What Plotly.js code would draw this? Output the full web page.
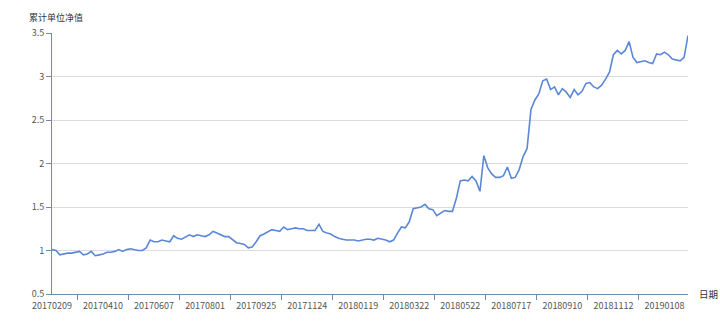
<!DOCTYPE html>
<html>
<head>
<meta charset="utf-8">
<script src="https://cdn.plot.ly/plotly-3.0.1.min.js"></script>
<style>html,body{margin:0;padding:0;background:#fff;}#chart{width:720px;height:326px;}</style>
</head>
<body>
<div id="chart"></div>
<script>
const dates = [
"20170209","20170214","20170217","20170222","20170227","20170302","20170307","20170310","20170315","20170320","20170323","20170328","20170331",
"20170410","20170413","20170418","20170421","20170426","20170502","20170505","20170510","20170515","20170518","20170523","20170526","20170602",
"20170607","20170612","20170615","20170620","20170623","20170628","20170703","20170706","20170711","20170714","20170719","20170724","20170727",
"20170801","20170804","20170809","20170814","20170817","20170822","20170825","20170830","20170904","20170907","20170912","20170915","20170920",
"20170925","20170928","20171011","20171016","20171019","20171024","20171027","20171101","20171106","20171109","20171114","20171117","20171122",
"20171124","20171129","20171204","20171207","20171212","20171215","20171220","20171225","20171228","20180103","20180108","20180111","20180116",
"20180119","20180124","20180129","20180201","20180206","20180209","20180214","20180226","20180301","20180306","20180309","20180314","20180319",
"20180322","20180327","20180330","20180404","20180411","20180416","20180419","20180424","20180427","20180504","20180509","20180514","20180517",
"20180522","20180525","20180530","20180604","20180607","20180612","20180615","20180621","20180626","20180629","20180704","20180709","20180712",
"20180717","20180720","20180725","20180730","20180802","20180807","20180810","20180815","20180820","20180823","20180828","20180831","20180905",
"20180910","20180913","20180918","20180921","20180927","20181008","20181011","20181016","20181019","20181024","20181029","20181101","20181106",
"20181112","20181115","20181120","20181123","20181128","20181203","20181206","20181211","20181214","20181219","20181224","20181227","20190103",
"20190108","20190111","20190116","20190121","20190124","20190129","20190201"
];
const nav = [
1.01,1.00,0.95,0.96,0.97,0.97,0.98,0.99,0.95,0.96,0.99,0.94,0.95,
0.96,0.98,0.98,0.99,1.01,0.99,1.01,1.02,1.01,1.00,1.00,1.03,1.12,
1.10,1.10,1.12,1.11,1.10,1.17,1.14,1.13,1.16,1.18,1.16,1.18,1.17,
1.16,1.18,1.22,1.20,1.18,1.16,1.16,1.12,1.09,1.08,1.07,1.03,1.04,
1.10,1.17,1.19,1.22,1.24,1.23,1.22,1.27,1.24,1.25,1.26,1.25,1.25,
1.23,1.23,1.23,1.30,1.22,1.20,1.19,1.16,1.14,1.13,1.12,1.12,1.12,
1.11,1.12,1.13,1.13,1.12,1.14,1.13,1.12,1.10,1.12,1.20,1.27,1.26,
1.33,1.48,1.49,1.50,1.53,1.48,1.47,1.40,1.43,1.46,1.45,1.45,1.60,
1.80,1.81,1.80,1.85,1.80,1.68,2.09,1.95,1.88,1.84,1.84,1.86,1.96,
1.83,1.84,1.93,2.08,2.17,2.62,2.73,2.80,2.95,2.97,2.85,2.88,2.79,
2.86,2.82,2.76,2.85,2.79,2.83,2.92,2.93,2.88,2.86,2.90,2.97,3.05,
3.25,3.30,3.26,3.30,3.40,3.22,3.16,3.17,3.18,3.16,3.15,3.26,3.25,
3.28,3.25,3.20,3.19,3.18,3.22,3.47
];
const tickLabels = ["20170209","20170410","20170607","20170801","20170925","20171124","20180119","20180322","20180522","20180717","20180910","20181112","20190108"];
const yTicks = [0.5,1,1.5,2,2.5,3,3.5];
const yTickText = ["0.5","1","1.5","2","2.5","3","3.5"];
const yTitle = "累计单位净值";
const xTitle = "日期";

const axisColor = "#6E8BB0";
const fontFam = "'Noto Sans CJK SC', 'Noto Sans', sans-serif";

// tick marks half-way between labelled categories
const labelIdx = tickLabels.map(d => dates.indexOf(d));
const midTicks = [];
const midText = [];
for (let k = 0; k + 1 < labelIdx.length; k++) {
  midTicks.push((labelIdx[k] + labelIdx[k+1]) / 2);
  midText.push("");
}
const lastStep = labelIdx[1] - labelIdx[0];
const lastMid = labelIdx[labelIdx.length - 1] + lastStep / 2;
if (lastMid <= dates.length - 1) { midTicks.push(lastMid); midText.push(""); }

const trace = {
  type: "scatter", mode: "lines",
  x: dates, y: nav,
  line: {color: "#5B88D6", width: 1.6, shape: "linear"},
  hoverinfo: "x+y", showlegend: false
};
const idx = dates.map((d, i) => i);
const ghost = {
  type: "scatter", mode: "lines", x: idx, y: nav,
  xaxis: "x2", yaxis: "y", opacity: 0, line: {width: 0.1, color: "rgba(0,0,0,0)"},
  hoverinfo: "skip", showlegend: false
};

const layout = {
  width: 720, height: 326,
  margin: {l: 52, r: 32, t: 33, b: 32, pad: 0},
  paper_bgcolor: "#fff", plot_bgcolor: "#fff",
  font: {family: fontFam, size: 9, color: "#555"},
  xaxis: {
    type: "category", range: [0, dates.length - 1],
    tickmode: "array", tickvals: tickLabels, ticktext: tickLabels,
    ticks: "", showgrid: false, zeroline: false,
    showline: true, linecolor: axisColor, linewidth: 1,
    tickfont: {size: 9, color: "#555", family: fontFam},
    ticklabelstandoff: 3
  },
  xaxis2: {
    type: "linear", overlaying: "x", anchor: "y", side: "bottom",
    range: [0, dates.length - 1],
    tickmode: "array", tickvals: midTicks, ticktext: midText, showticklabels: true,
    ticks: "outside", ticklen: 5, tickcolor: axisColor, tickwidth: 1,
    showgrid: false, zeroline: false, showline: false, visible: true
  },
  yaxis: {
    range: [0.5, 3.5], tickmode: "array", tickvals: yTicks, ticktext: yTickText,
    ticks: "outside", ticklen: 5, tickcolor: axisColor,
    showgrid: true, gridcolor: "#DCDCDC", gridwidth: 1,
    zeroline: false, showline: true, linecolor: axisColor, linewidth: 1,
    tickfont: {size: 9, color: "#555", family: fontFam}
  },
  annotations: [
    {text: yTitle, xref: "paper", yref: "paper", x: -0.04, y: 1.0, yshift: 16,
     xanchor: "left", yanchor: "middle", showarrow: false,
     font: {size: 9, color: "#333", family: fontFam}},
    {text: xTitle, xref: "paper", yref: "paper", x: 1.0, y: 0, xshift: 9,
     xanchor: "left", yanchor: "middle", showarrow: false,
     font: {size: 9.5, color: "#333", family: fontFam}}
  ]
};

Plotly.newPlot("chart", [trace, ghost], layout, {displayModeBar: false, staticPlot: true});
</script>
</body>
</html>
